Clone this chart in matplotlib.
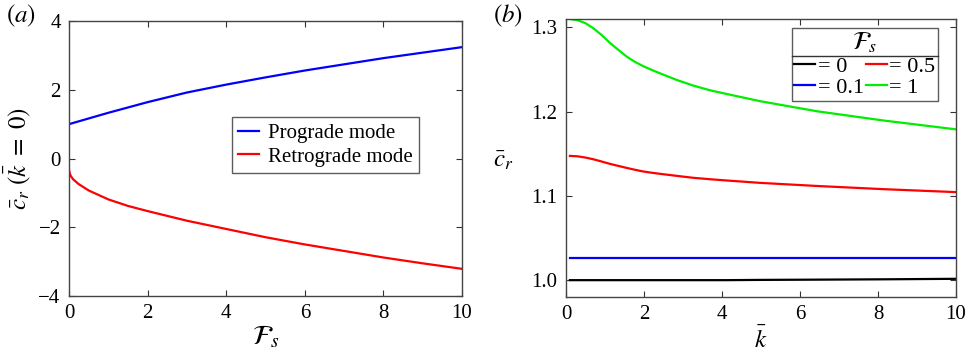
import numpy as np
import matplotlib
matplotlib.use("Agg")
import matplotlib.pyplot as plt
from matplotlib.lines import Line2D

plt.rcParams['font.family'] = ['Liberation Serif', 'DejaVu Serif']
plt.rcParams['mathtext.fontset'] = 'stix'
plt.rcParams['font.size'] = 15

# (a) phase speed at k=0 versus F_s
Fs_pro = [0, 1, 2, 3, 4, 5, 6, 7, 8, 9, 10]
c_pro = [1.0, 1.33, 1.64, 1.92, 2.15, 2.36, 2.56, 2.74, 2.92, 3.08, 3.24]
Fs_ret = [0, 0.01, 0.04, 0.1, 0.24, 0.5, 1, 1.5, 2, 3, 4, 5, 6, 7, 8, 9, 10]
c_ret = [-0.33, -0.40, -0.50, -0.60, -0.74, -0.93, -1.19, -1.38, -1.53, -1.81,
         -2.05, -2.29, -2.50, -2.69, -2.88, -3.05, -3.21]

# (b) phase speed versus k for several F_s
k_vals = [0.1, 0.3, 0.5, 0.7, 0.9, 1.13, 1.35, 1.56, 1.77, 1.98, 2.2, 2.41, 2.84,
          3.26, 3.69, 4.12, 4.97, 6.43, 8.14, 10]
c_F0 = [1.0, 1.0, 1.0, 1.0, 1.0, 1.0, 1.0, 1.0, 1.0, 1.0, 1.0, 1.0, 1.0,
        1.0, 1.0, 1.0, 1.0003, 1.0006, 1.001, 1.0016]
c_F01 = [1.026] * len(k_vals)
c_F05 = [1.1475, 1.1470, 1.1455, 1.1435, 1.1410, 1.1380, 1.1355, 1.1332, 1.1310,
         1.1290, 1.1275, 1.1262, 1.1238, 1.1215, 1.1198, 1.1183, 1.1155, 1.1118,
         1.1080, 1.1045]
c_F1 = [1.310, 1.3085, 1.3050, 1.2990, 1.2915, 1.2815, 1.2730, 1.2652, 1.2590,
        1.2540, 1.2495, 1.2455, 1.2376, 1.2310, 1.2254, 1.2210, 1.2125, 1.2005,
        1.1895, 1.1790]
labels_b = ['= 0', '= 0.1', '= 0.5', '= 1']

fig = plt.figure(figsize=(9.71, 3.63), dpi=100)
ax1 = fig.add_axes([0.0711, 0.1846, 0.4047, 0.7575])
ax2 = fig.add_axes([0.5829, 0.1818, 0.4017, 0.7659])

for ax in (ax1, ax2):
    ax.tick_params(direction='in', top=True, right=True, length=4, width=0.8,
                   colors='#333333', labelcolor='black', labelsize=15, pad=6)
    for s in ax.spines.values():
        s.set_color('#444444')
        s.set_linewidth(1.0)

ax1.plot(Fs_pro, c_pro, color='#0000ff', lw=1.6, label='Prograde mode')
ax1.plot(Fs_ret, c_ret, color='#ff0000', lw=1.6, label='Retrograde mode')
ax1.set_xlim(0, 10)
ax1.set_ylim(-4, 4)
ax1.set_xticks([0, 2, 4, 6, 8, 10])
ax1.set_yticks([-4, -2, 0, 2, 4])
ax1.set_yticklabels(['\u22124', '\u22122', '0', '2', '4'])
ax1.set_xlabel(r'$\mathcal{F}_s$', fontsize=20, labelpad=0)
ax1.set_ylabel(r'$\bar{c}_r\ (\bar{k}\ =\ 0)$', fontsize=18, labelpad=4)
leg1 = ax1.legend(loc='upper left', bbox_to_anchor=(0.415, 0.651), frameon=True,
                  fancybox=False, edgecolor='#333333', handlelength=1.0,
                  handletextpad=0.4, borderpad=0.3, labelspacing=0.2,
                  borderaxespad=0, fontsize=15)
leg1.get_frame().set_linewidth(1.0)

colors_b = ['black', '#0000ff', '#ff0000', '#00ee00']
for c, lab, col in zip([c_F0, c_F01, c_F05, c_F1], labels_b, colors_b):
    ax2.plot(k_vals, c, color=col, lw=1.6, label=lab)
ax2.set_xlim(0, 10)
ax2.set_ylim(0.98, 1.31)
ax2.set_xticks([0, 2, 4, 6, 8, 10])
ax2.set_yticks([1.0, 1.1, 1.2, 1.3])
ax2.set_yticklabels(['1.0', '1.1', '1.2', '1.3'])
ax2.set_xlabel(r'$\bar{k}$', fontsize=18, labelpad=2)
ax2.set_ylabel(r'$\bar{c}_r$', fontsize=18, rotation=0, va='center')
ax2.yaxis.set_label_coords(-0.16, 0.49)
leg2 = ax2.legend(loc='upper right', bbox_to_anchor=(0.954, 0.968), ncol=2,
                  title=r'$\mathcal{F}_s$', title_fontsize=18, frameon=True,
                  fancybox=False, edgecolor='#333333', handlelength=0.95,
                  handletextpad=0.1, columnspacing=0.1, borderpad=0.12,
                  labelspacing=0.05, borderaxespad=0, fontsize=16)
leg2.get_frame().set_linewidth(1.0)

fig.text(0.006, 0.955, r'$(\mathit{a})$', fontsize=18, va='center')
fig.text(0.508, 0.955, r'$(\mathit{b})$', fontsize=18, va='center')

# separator line under legend title
fig.canvas.draw()
r = fig.canvas.get_renderer()
fb = leg2.get_frame().get_window_extent(r)
tb = leg2.get_title().get_window_extent(r)
ysep = tb.y0 - 1
W, H = fig.bbox.width, fig.bbox.height
fig.add_artist(Line2D([fb.x0 / W, fb.x1 / W], [ysep / H, ysep / H],
                      transform=fig.transFigure, color='#333333', lw=1.0))

fig.savefig('out.png', dpi=100)
